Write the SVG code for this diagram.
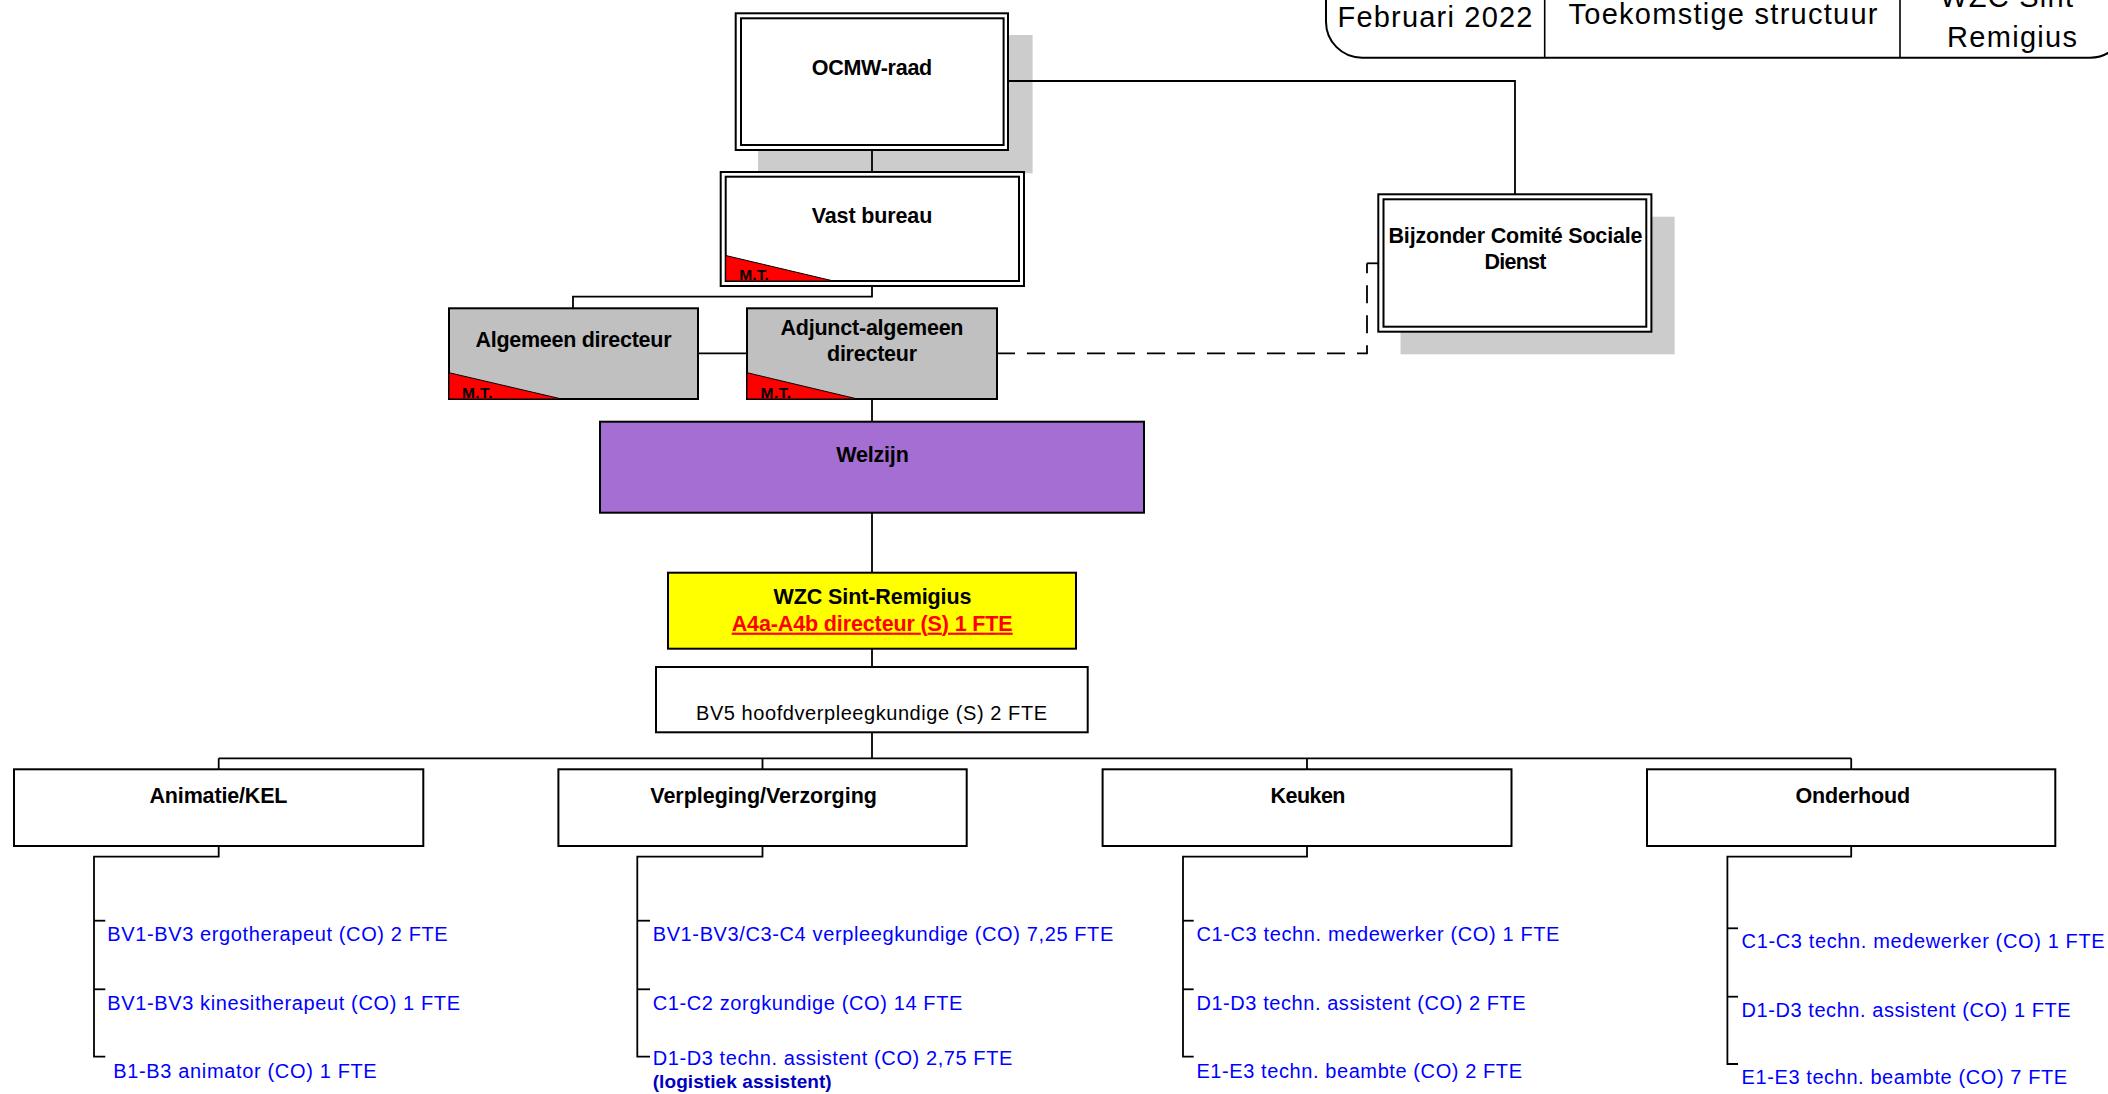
<svg xmlns="http://www.w3.org/2000/svg" width="2108" height="1094" viewBox="0 0 2108 1094">
<style>
text{font-family:"Liberation Sans",Arial,sans-serif}
.b{font-weight:bold;font-size:21.5px;fill:#000}
.it{font-size:20px;fill:#0000FF}
.hd{font-size:29px;fill:#000}
.mt{font-weight:bold;font-size:15.5px;fill:#000}
.box{stroke:#000;stroke-width:2}
.shadow{fill:#CCCCCC}
.tri{fill:#FF0000;stroke:#000;stroke-width:1}
.con{fill:none;stroke:#000;stroke-width:1.8}
.dash{fill:none;stroke:#000;stroke-width:1.8;stroke-dasharray:18 12}
</style>
<rect width="2108" height="1094" fill="#fff"/>

<g id="header">
<rect x="1326" y="-60" width="800" height="117.7" rx="36" ry="36" fill="#fff" stroke="#000" stroke-width="2"/>
<line x1="1544.7" y1="0" x2="1544.7" y2="57.7" stroke="#000" stroke-width="1.6"/>
<line x1="1900" y1="0" x2="1900" y2="57.7" stroke="#000" stroke-width="1.6"/>
<text class="hd" x="1435" y="26.7" text-anchor="middle" textLength="195">Februari 2022</text>
<text class="hd" x="1723" y="23.5" text-anchor="middle" textLength="309">Toekomstige structuur</text>
<text class="hd" x="2012" y="6.5" text-anchor="middle" textLength="144">WZC Sint-</text>
<text class="hd" x="2012" y="46.7" text-anchor="middle" textLength="130">Remigius</text>
</g>

<g id="shadows">
<rect class="shadow" x="758" y="35" width="274.6" height="138.3"/>
<rect class="shadow" x="1400.5" y="216.7" width="274.1" height="137.6"/>
</g>

<g id="connectors">
<polyline class="con" points="872,150 872,172"/>
<polyline class="con" points="1008,81 1515,81 1515,194.3"/>
<polyline class="con" points="872,286 872,296.7 573,296.7 573,308.3"/>
<line class="con" x1="698" y1="353.3" x2="747" y2="353.3"/>
<polyline class="dash" points="997,353.3 1367,353.3 1367,263.3"/>
<line class="con" x1="1367" y1="263.3" x2="1378.3" y2="263.3"/>
<polyline class="con" points="872,399 872,421.7"/>
<polyline class="con" points="872,512.7 872,572.7"/>
<polyline class="con" points="872,648.7 872,667"/>
<polyline class="con" points="872,732.3 872,758.3"/>
<line class="con" x1="218.7" y1="758.3" x2="1851.2" y2="758.3"/>
<line class="con" x1="218.7" y1="758.3" x2="218.7" y2="769.3"/>
<line class="con" x1="762.5" y1="758.3" x2="762.5" y2="769.3"/>
<line class="con" x1="1307" y1="758.3" x2="1307" y2="769.3"/>
<line class="con" x1="1851.2" y1="758.3" x2="1851.2" y2="769.3"/>
<polyline class="con" points="218.7,846 218.7,856.7 94,856.7 94,1056.7 105.3,1056.7"/>
<line class="con" x1="94" y1="920.7" x2="105.3" y2="920.7"/>
<line class="con" x1="94" y1="989.3" x2="105.3" y2="989.3"/>
<polyline class="con" points="762.5,846 762.5,856.7 637.3,856.7 637.3,1056.7 650,1056.7"/>
<line class="con" x1="637.3" y1="920.7" x2="650" y2="920.7"/>
<line class="con" x1="637.3" y1="989.3" x2="650" y2="989.3"/>
<polyline class="con" points="1307,846 1307,856.7 1183,856.7 1183,1056.7 1193.7,1056.7"/>
<line class="con" x1="1183" y1="920.7" x2="1193.7" y2="920.7"/>
<line class="con" x1="1183" y1="989.3" x2="1193.7" y2="989.3"/>
<polyline class="con" points="1851.2,846 1851.2,856.7 1727.4,856.7 1727.4,1064 1738,1064"/>
<line class="con" x1="1727.4" y1="928.3" x2="1738" y2="928.3"/>
<line class="con" x1="1727.4" y1="996.7" x2="1738" y2="996.7"/>
</g>

<g id="ocmw-raad">
<rect class="box" x="735.7" y="13.3" width="272.3" height="136.7" fill="#fff"/>
<rect class="box" x="741" y="18.3" width="262.6" height="126.7" fill="none"/>
<text class="b" x="872" y="75" text-anchor="middle" textLength="120.5">OCMW-raad</text>
</g>

<g id="vast-bureau">
<rect class="box" x="720.7" y="172" width="303.3" height="114" fill="#fff"/>
<rect class="box" x="725.7" y="176.7" width="293.3" height="104.3" fill="none"/>
<polygon class="tri" points="725.7,255.5 725.7,281 833.5,281"/>
<text class="mt" x="739.3" y="280" textLength="29.5">M.T.</text>
<text class="b" x="872" y="222.7" text-anchor="middle" textLength="120.6">Vast bureau</text>
</g>

<g id="bijzonder-comite">
<rect class="box" x="1378.3" y="194.3" width="273.1" height="137.4" fill="#fff"/>
<rect class="box" x="1383.5" y="199.3" width="262.8" height="127.4" fill="none"/>
<text class="b" x="1515.5" y="243.3" text-anchor="middle" textLength="254">Bijzonder Comité Sociale</text>
<text class="b" x="1515.5" y="269.3" text-anchor="middle" textLength="62">Dienst</text>
</g>

<g id="algemeen-directeur">
<rect class="box" x="449" y="308.3" width="249" height="90.7" fill="#C0C0C0"/>
<polygon class="tri" points="449,372.7 449,399 561.6,399"/>
<text class="mt" x="462" y="397.7" textLength="30.5">M.T.</text>
<text class="b" x="573.5" y="347.3" text-anchor="middle" textLength="196">Algemeen directeur</text>
</g>

<g id="adjunct-algemeen-directeur">
<rect class="box" x="747" y="308.3" width="250" height="90.7" fill="#C0C0C0"/>
<polygon class="tri" points="747,372.7 747,399 857.5,399"/>
<text class="mt" x="760.6" y="397.7" textLength="30.5">M.T.</text>
<text class="b" x="872" y="335" text-anchor="middle" textLength="183">Adjunct-algemeen</text>
<text class="b" x="872" y="360.7" text-anchor="middle" textLength="90">directeur</text>
</g>

<g id="welzijn">
<rect class="box" x="600" y="421.7" width="544" height="91" fill="#A56ED2"/>
<text class="b" x="872.5" y="461.7" text-anchor="middle" textLength="72.6">Welzijn</text>
</g>

<g id="wzc-sint-remigius">
<rect class="box" x="668" y="572.7" width="408" height="76" fill="#FFFF00"/>
<text class="b" x="872.5" y="604.3" text-anchor="middle" textLength="198">WZC Sint-Remigius</text>
<text class="b" x="872.2" y="630.7" text-anchor="middle" textLength="281" style="fill:#FF0000" text-decoration="underline">A4a-A4b directeur (S) 1 FTE</text>
</g>

<g id="hoofdverpleegkundige">
<rect class="box" x="656" y="667" width="431.7" height="65.3" fill="#fff"/>
<text x="871.5" y="720" text-anchor="middle" textLength="351" font-size="20" fill="#000">BV5 hoofdverpleegkundige (S) 2 FTE</text>
</g>

<g id="animatie-kel">
<rect class="box" x="14" y="769.3" width="409.3" height="76.7" fill="#fff"/>
<text class="b" x="218.5" y="802.5" text-anchor="middle" textLength="138">Animatie/KEL</text>
<text class="it" x="107.3" y="940.7" textLength="340.4">BV1-BV3 ergotherapeut (CO) 2 FTE</text>
<text class="it" x="107.3" y="1010" textLength="352.7">BV1-BV3 kinesitherapeut (CO) 1 FTE</text>
<text class="it" x="113.3" y="1077.7" textLength="263.4">B1-B3 animator (CO) 1 FTE</text>
</g>

<g id="verpleging-verzorging">
<rect class="box" x="558.4" y="769.3" width="408.3" height="76.7" fill="#fff"/>
<text class="b" x="763.6" y="802.5" text-anchor="middle" textLength="226.6">Verpleging/Verzorging</text>
<text class="it" x="652.7" y="940.7" textLength="460.6">BV1-BV3/C3-C4 verpleegkundige (CO) 7,25 FTE</text>
<text class="it" x="652.7" y="1010" textLength="309.6">C1-C2 zorgkundige (CO) 14 FTE</text>
<text class="it" x="652.7" y="1065" textLength="359.6">D1-D3 techn. assistent (CO) 2,75 FTE</text>
<text x="652.7" y="1088.3" textLength="179" font-size="19" font-weight="bold" fill="#0000C0">(logistiek assistent)</text>
</g>

<g id="keuken">
<rect class="box" x="1102.6" y="769.3" width="408.9" height="76.7" fill="#fff"/>
<text class="b" x="1308" y="802.5" text-anchor="middle" textLength="75">Keuken</text>
<text class="it" x="1196.4" y="940.7" textLength="363">C1-C3 techn. medewerker (CO) 1 FTE</text>
<text class="it" x="1196.4" y="1010" textLength="329.3">D1-D3 techn. assistent (CO) 2 FTE</text>
<text class="it" x="1196.4" y="1077.7" textLength="325.6">E1-E3 techn. beambte (CO) 2 FTE</text>
</g>

<g id="onderhoud">
<rect class="box" x="1647" y="769.3" width="408.3" height="76.7" fill="#fff"/>
<text class="b" x="1852.8" y="802.5" text-anchor="middle" textLength="114.7">Onderhoud</text>
<text class="it" x="1741.6" y="948.3" textLength="363">C1-C3 techn. medewerker (CO) 1 FTE</text>
<text class="it" x="1741.6" y="1016.7" textLength="329">D1-D3 techn. assistent (CO) 1 FTE</text>
<text class="it" x="1741.6" y="1084" textLength="325.5">E1-E3 techn. beambte (CO) 7 FTE</text>
</g>
</svg>
